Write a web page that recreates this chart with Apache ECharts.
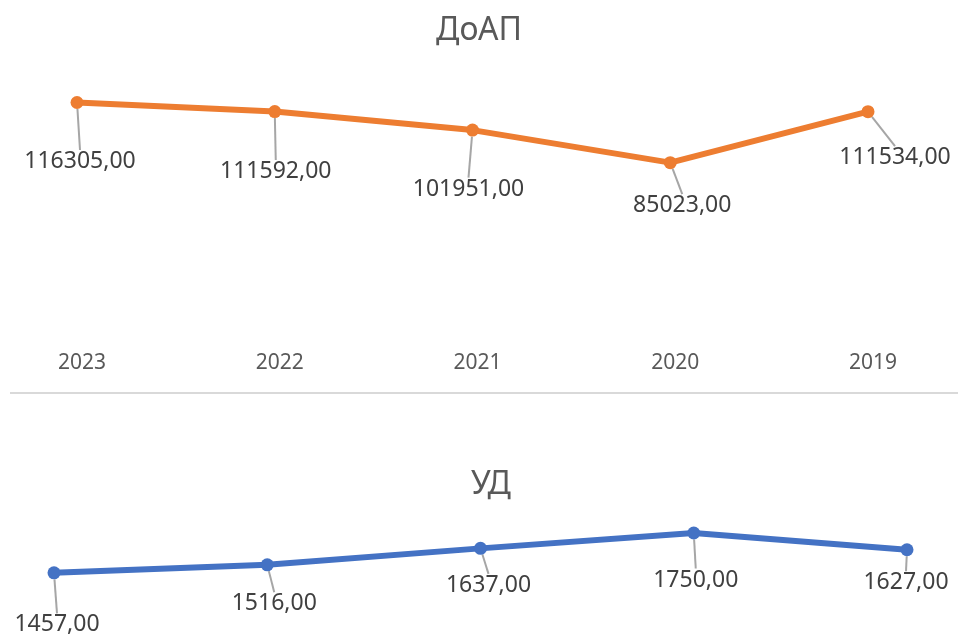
<!DOCTYPE html>
<html>
<head>
<meta charset="utf-8">
<script src="https://cdn.jsdelivr.net/npm/echarts@6/dist/echarts.min.js"></script>
<style>
  html, body { margin: 0; padding: 0; background: #fff; }
  #chart { width: 958px; height: 637px; }
</style>
</head>
<body>
<div id="chart"></div>
<script>
// data
const years = ['2023', '2022', '2021', '2020', '2019']
const doapValues = [116305, 111592, 101951, 85023, 111534]
const udValues = [1457, 1516, 1637, 1750, 1627]

// label shifts (dx, dy) from each point, like the excel chart
const doapShift = [[3, 59], [1, 60], [-4, 59], [12, 43], [27, 46]]
const udShift = [[3, 52], [7, 39], [8, 37], [2, 47], [-1, 33]]

const fmt = v => v.toFixed(2).replace('.', ',')
const font = '"Noto Sans", "Open Sans", sans-serif'

let myChart = echarts.init(document.getElementById('chart'))

const option = {
  animation: false,
  title: [
    {
      text: 'ДоАП', left: 'center', top: 10,
      textStyle: { color: '#595959', fontSize: 32, fontWeight: 'normal', fontFamily: font }
    },
    {
      text: 'УД', left: 466, top: 464,
      textStyle: { color: '#595959', fontSize: 32, fontWeight: 'normal', fontFamily: font }
    }
  ],
  grid: [
    { left: 77, right: 90, top: 57, height: 269 },
    { left: 54, right: 51, top: 499, height: 136 }
  ],
  xAxis: [
    {
      gridIndex: 0, type: 'category', data: years, boundaryGap: false,
      axisLine: { show: false }, axisTick: { show: false },
      axisLabel: { margin: 27, color: '#595959', fontSize: 21, fontFamily: font, padding: [0, 0, 0, 10] }
    },
    {
      gridIndex: 1, type: 'category', data: years, boundaryGap: false, show: false
    }
  ],
  yAxis: [
    { gridIndex: 0, type: 'value', min: 0, max: 140000, show: false, splitLine: { show: false } },
    { gridIndex: 1, type: 'value', min: 1000, max: 2000, show: false, splitLine: { show: false } }
  ],
  graphic: [
    {
      type: 'line',
      shape: { x1: 10, y1: 393, x2: 958, y2: 393 },
      style: { stroke: '#d9d9d9', lineWidth: 2 }
    }
  ],
  series: [
    {
      name: 'ДоАП', type: 'line', xAxisIndex: 0, yAxisIndex: 0,
      data: doapValues,
      symbol: 'circle', symbolSize: 13,
      itemStyle: { color: '#ED7D31' },
      lineStyle: { color: '#ED7D31', width: 6 },
      label: {
        show: true, position: 'inside',
        formatter: p => fmt(p.value),
        color: '#404040', fontSize: 23, fontFamily: font
      },
      labelLine: { show: true, lineStyle: { color: '#a6a6a6', width: 2 } },
      labelLayout: p => ({ dx: doapShift[p.dataIndex][0], dy: doapShift[p.dataIndex][1] })
    },
    {
      name: 'УД', type: 'line', xAxisIndex: 1, yAxisIndex: 1,
      data: udValues,
      symbol: 'circle', symbolSize: 13,
      itemStyle: { color: '#4472C4' },
      lineStyle: { color: '#4472C4', width: 6 },
      label: {
        show: true, position: 'inside',
        formatter: p => fmt(p.value),
        color: '#404040', fontSize: 23, fontFamily: font
      },
      labelLine: { show: true, lineStyle: { color: '#a6a6a6', width: 2 } },
      labelLayout: p => ({ dx: udShift[p.dataIndex][0], dy: udShift[p.dataIndex][1] })
    }
  ]
}

myChart.setOption(option)
</script>
</body>
</html>
